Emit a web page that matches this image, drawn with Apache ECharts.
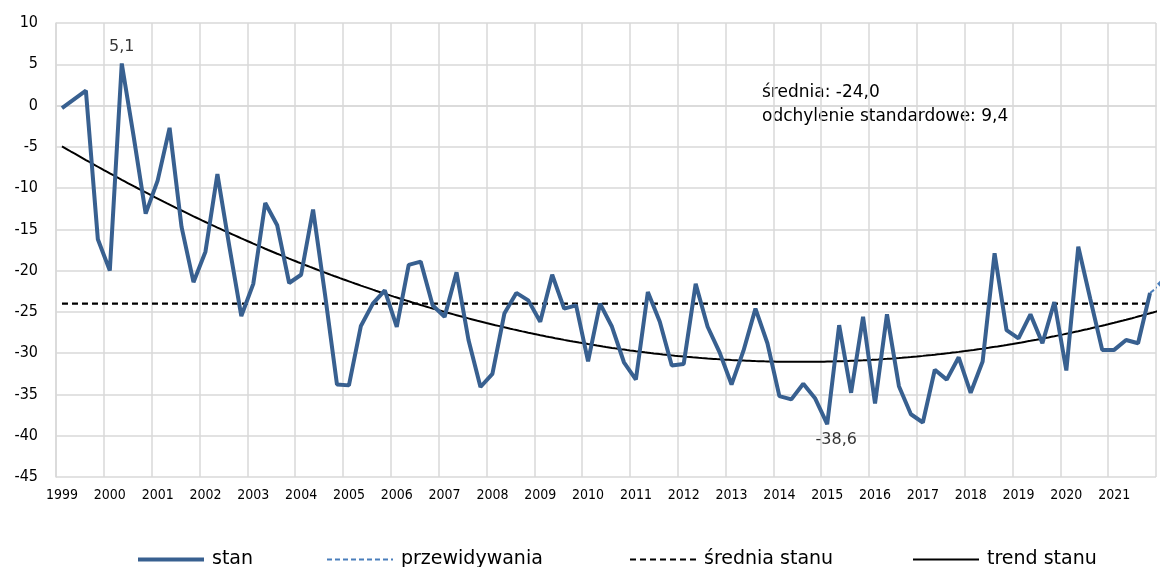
<!DOCTYPE html>
<html>
<head>
<meta charset="utf-8">
<script src="https://cdn.jsdelivr.net/npm/echarts@6/dist/echarts.min.js"></script>
<style>
html,body{margin:0;padding:0;background:#fff;}
#c{width:1160px;height:567px;}
</style>
</head>
<body>
<div id="c"></div>
<script>
// ---- data ----
const yearLabels = ['1999','2000','2001','2002','2003','2004','2005','2006','2007','2008','2009','2010','2011','2012','2013','2014','2015','2016','2017','2018','2019','2020','2021'];
// quarterly values, 1999Q1 ... 2021Q4 (null = no observation)
const stan = [
  -0.3, null, 1.8, -16.2,
  -20.0, 5.1, -3.8, -13.1,
  -9.1, -2.7, -14.7, -21.4,
  -17.7, -8.3, -17.1, -25.5,
  -21.6, -11.8, -14.5, -21.5,
  -20.5, -12.6, -22.9, -33.8,
  -33.9, -26.7, -24.0, -22.4,
  -26.8, -19.3, -18.9, -24.2,
  -25.6, -20.2, -28.4, -34.1,
  -32.5, -25.2, -22.7, -23.6,
  -26.2, -20.5, -24.6, -24.2,
  -31.0, -24.0, -26.8, -31.1,
  -33.2, -22.6, -26.2, -31.5,
  -31.3, -21.6, -26.8, -29.9,
  -33.8, -29.7, -24.6, -28.8,
  -35.2, -35.6, -33.7, -35.5,
  -38.6, -26.6, -34.8, -25.6,
  -36.1, -25.3, -34.0, -37.4,
  -38.4, -32.0, -33.2, -30.5,
  -34.8, -31.0, -17.9, -27.2,
  -28.2, -25.3, -28.8, -23.8,
  -32.1, -17.1, -23.4, -29.6,
  -29.6, -28.4, -28.8, -22.7
];
// forecast: last observed quarter (2021Q4) and next quarter (2022Q1)
const przewidywania = [-22.7, -21.6];
const sredniaValue = -24.0;
const odchylenieValue = 9.4;
const yTicks = {min: -45, max: 10, step: 5};
const legendNames = ['stan', 'przewidywania', 'średnia stanu', 'trend stanu'];

// ---- derived ----
const FONT = "'DejaVu Sans Condensed','DejaVu Sans','Liberation Sans',sans-serif";
const FONT_W = "'DejaVu Sans','Liberation Sans',sans-serif";
const fmt = v => v.toFixed(1).replace('.', ',');
const xOf = i => i + 0.5; // mid-quarter position in quarter units
let maxI = 0, minI = 0;
stan.forEach((v, i) => { if (v == null) return; if (v > stan[maxI]) maxI = i; if (v < stan[minI]) minI = i; });
const stanData = stan.map((v, i) => [xOf(i), v]);
const extremeData = [
  {value: [xOf(maxI), stan[maxI]], label: {position: 'top', distance: 8}},
  {value: [xOf(minI), stan[minI]], label: {position: 'bottom', distance: 7, offset: [9, 0]}}
];
const lastI = stan.length - 1;
const predData = przewidywania.map((v, k) => k === 0
  ? {value: [xOf(lastI + k), v], symbol: 'none'}
  : {value: [xOf(lastI + k), v]});
// quadratic least-squares trend of the observed series
const pts = stan.map((v, i) => [xOf(i), v]).filter(p => p[1] != null);
let S = [0,0,0,0,0], T = [0,0,0];
pts.forEach(([x, y]) => { for (let k = 0; k < 5; k++) S[k] += Math.pow(x, k); for (let k = 0; k < 3; k++) T[k] += y * Math.pow(x, k); });
function solve3(A, b) {
  const M = A.map((r, i) => r.concat([b[i]]));
  for (let c = 0; c < 3; c++) {
    let p = c; for (let r = c + 1; r < 3; r++) if (Math.abs(M[r][c]) > Math.abs(M[p][c])) p = r;
    [M[c], M[p]] = [M[p], M[c]];
    for (let r = 0; r < 3; r++) if (r !== c) { const f = M[r][c] / M[c][c]; for (let k = c; k < 4; k++) M[r][k] -= f * M[c][k]; }
  }
  return M.map((r, i) => r[3] / r[i]);
}
const coef = solve3([[S[0],S[1],S[2]],[S[1],S[2],S[3]],[S[2],S[3],S[4]]], T);
const trendData = [];
for (let x = xOf(0); x <= xOf(lastI + 1) + 0.001; x += 0.25) trendData.push([x, coef[0] + coef[1]*x + coef[2]*x*x]);
const meanData = [[xOf(0), sredniaValue], [xOf(lastI), sredniaValue]];

const BLUE = '#386090';
const LBLUE = '#4a7ebb';
const GRID = '#d9d9d9';
const legendLefts = [131, 321, 624, 907];
const legendLineW = [4, 2, 2, 2];
const chart = echarts.init(document.getElementById('c'), null, {renderer: 'canvas'});
chart.setOption({
  animation: false,
  backgroundColor: '#fff',
  textStyle: {fontFamily: FONT},
  grid: {left: 56, right: 4, top: 23, bottom: 90, containLabel: false},
  xAxis: {
    type: 'value', min: 0, max: yearLabels.length * 4, interval: 4,
    axisLine: {show: true, lineStyle: {color: GRID, width: 1.5}},
    axisTick: {show: false},
    splitLine: {show: true, lineStyle: {color: GRID, width: 1.5}},
    axisLabel: {color: '#000', fontSize: 14, fontFamily: FONT, margin: 11, padding: [0,0,0,12],
      showMaxLabel: false, formatter: v => yearLabels[v / 4] || ''}
  },
  yAxis: {
    type: 'value', min: yTicks.min, max: yTicks.max, interval: yTicks.step,
    axisLine: {show: true, lineStyle: {color: GRID, width: 1.5}},
    axisTick: {show: false},
    splitLine: {show: true, lineStyle: {color: GRID, width: 1.5}},
    axisLabel: {color: '#000', fontSize: 16, fontFamily: FONT, margin: 18}
  },
  legend: legendNames.map((n, k) => ({
    data: [n], top: 545, left: legendLefts[k], itemWidth: 66, itemHeight: 12, itemGap: 0,
    itemStyle: {color: 'rgba(0,0,0,0)', borderWidth: 0, opacity: 0},
    lineStyle: {width: legendLineW[k]},
    textStyle: {color: '#000', fontSize: 19, fontFamily: FONT_W, padding: [0, 0, 0, 3]}
  })),
  graphic: [{
    type: 'text', left: 762, top: 81,
    style: {text: 'średnia: ' + fmt(sredniaValue) + '\nodchylenie standardowe: ' + fmt(odchylenieValue),
      font: '17px ' + FONT_W, fill: '#000', lineHeight: 24}
  }],
  series: [
    {name: 'stan', type: 'line', data: stanData, connectNulls: true, symbol: 'none', z: 5,
      lineStyle: {color: BLUE, width: 4}, itemStyle: {color: BLUE}},
    {name: 'przewidywania', type: 'line', data: predData, clip: false, z: 4, symbol: 'diamond', symbolSize: 10,
      lineStyle: {color: LBLUE, width: 2, type: [5, 3]}, itemStyle: {color: LBLUE}},
    {name: 'średnia stanu', type: 'line', data: meanData, symbol: 'none', z: 3,
      lineStyle: {color: '#000', width: 2.2, type: [6, 4]}, itemStyle: {color: '#000'}},
    {name: 'trend stanu', type: 'line', data: trendData, symbol: 'none', clip: false, z: 3,
      lineStyle: {color: '#000', width: 2}, itemStyle: {color: '#000'}},
    {name: 'etykiety', type: 'scatter', data: extremeData, symbolSize: 2, z: 6, silent: true,
      itemStyle: {color: 'rgba(0,0,0,0)'},
      label: {show: true, color: '#000', fontSize: 16, fontFamily: FONT_W,
        formatter: p => fmt(p.value[1])}}
  ]
});
</script>
</body>
</html>
